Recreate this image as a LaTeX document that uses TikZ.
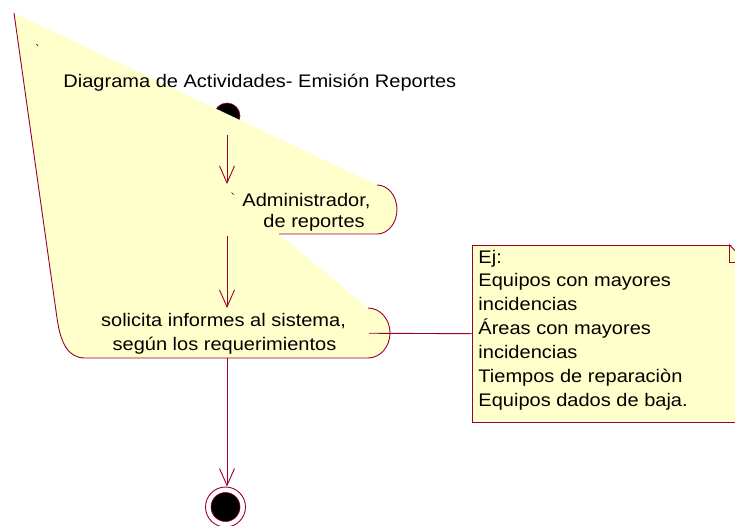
\documentclass[tikz,border=0pt]{standalone}
\usepackage{fontspec}
\setmainfont{Liberation Sans}[FakeStretch=1.1]
\usepackage{tikz}
\usetikzlibrary{arrows.meta, positioning, calc}
\definecolor{rosered}{RGB}{153,0,51}
\definecolor{roseyellow}{RGB}{255,255,204}

\begin{document}
\begin{tikzpicture}[x=1pt, y=-1pt, line width=0.9pt,
    txt/.style={inner sep=0pt, font=\fontsize{18.2}{23.9}\selectfont},
    flow/.style={draw=rosered, -{Straight Barb[length=17pt, width=15pt]}},
    startdot/.style={circle, fill=black, draw=rosered, line width=0.6pt, minimum size=26pt, inner sep=0pt},
    endring/.style={circle, draw=rosered, minimum size=40pt, inner sep=0pt},
    enddot/.style={circle, fill=black, draw=rosered, line width=0.6pt, minimum size=29pt, inner sep=0pt},
    notebox/.style={rectangle, draw=rosered, fill=roseyellow, anchor=north west, inner sep=0pt, minimum width=274pt, minimum height=177.5pt}]
      \useasboundingbox (0,0) rectangle (735,525);
      \clip (0,0) rectangle (735,525);

      % start state, half hidden
      \node[startdot] (start) at (227,116) {};

      % the broken swimlane / activity fill
      \fill[roseyellow] (14,13) -- (377,185) arc[start angle=-90, end angle=90, x radius=20, y radius=24.5]
        -- (279,234) -- (368,308) arc[start angle=-90, end angle=90, x radius=22, y radius=25]
        -- (85,358) .. controls (68,358) and (60.5,343) .. (57,318) -- cycle;
      \draw[rosered] (377,185) arc[start angle=-90, end angle=90, x radius=20, y radius=24.5] -- (279,234);
      \draw[rosered] (368,308) arc[start angle=-90, end angle=90, x radius=22, y radius=25]
        -- (85,358) .. controls (68,358) and (60.5,343) .. (57,318) -- (14,13);
      \draw[rosered, line width=0.7pt] (36.5,44) -- (38,46);
      \draw[line width=0.7pt] (231.5,192.5) -- (233.5,194.5);

      \node[txt, anchor=base west] (title) at (63,87) {Diagrama de Actividades- Emisión Reportes};

      % activities
      \node[txt, anchor=base west] (act1a) at (242,206.5) {Administrador,};
      \node[txt, anchor=base west] (act1b) at (263,227) {de reportes};
      \node[txt, anchor=base] (act2a) at (223.5,326.5) {solicita informes al sistema,};
      \node[txt, anchor=base] (act2b) at (224.5,350.5) {según los requerimientos};

      \coordinate (a1in) at (227,184);
      \coordinate (a1out) at (227,236);
      \coordinate (a2in) at (227,308);
      \coordinate (a2out) at (227,358);
      \coordinate (a2r) at (369,333.25);

      % end state
      \node[endring] (end) at (225.5,507) {};
      \node[enddot] (endin) at (end) {};

      % transitions
      \draw[flow, shorten <=6pt] (start) -- (a1in);
      \draw[flow] (a1out) -- (a2in);
      \draw[flow] (a2out) -- (a2out |- end.north);

      % note
      \node[notebox] (note) at (472,244.5) {};
      \fill[white] (729,243) -- (748,243) -- (748,262) -- cycle;
      \draw[rosered] (729,244.5) -- (746,261.5);
      \draw[rosered] (729,244.5) -- (729,262) -- (746,262);
      \draw[rosered] (a2r) -- (note.west);
      \foreach \ln [count=\i] in {Ej:, Equipos con mayores, incidencias, Áreas con mayores, incidencias, Tiempos de reparaciòn, Equipos dados de baja.}
        \node[txt, anchor=base west] (nl\i) at (478, {239.1+23.9*\i}) {\ln};
    \end{tikzpicture}
\end{document}
